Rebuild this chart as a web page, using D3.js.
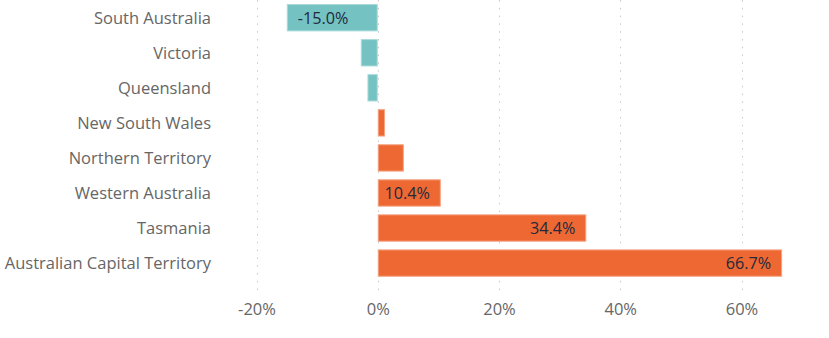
<!DOCTYPE html>
<html>
<head>
<meta charset="utf-8">
<script src="https://cdn.jsdelivr.net/npm/d3@7"></script>
<style>
  html, body { margin: 0; padding: 0; background: #ffffff; }
  svg { display: block; }
</style>
</head>
<body>
<svg id="chart" width="829" height="338"></svg>
<script>
const categories = ["South Australia", "Victoria", "Queensland", "New South Wales", "Northern Territory", "Western Australia", "Tasmania", "Australian Capital Territory"];
const values = [-15.0, -2.8, -1.7, 1.2, 4.3, 10.4, 34.4, 66.7];
const tickValues = [-20, 0, 20, 40, 60];
const tickLabels = ["-20%", "0%", "20%", "40%", "60%"];

const svg = d3.select("#chart");
const font = "'Open Sans', 'Noto Sans', sans-serif";

const x = d3.scaleLinear().domain([-20, 60]).range([256.5, 741.5]);
const y = d3.scaleBand().domain(categories).range([0.2, 280.6]).paddingInner(0.22).paddingOuter(0.11);

// gridlines
svg.append("g").selectAll("line").data(tickValues).join("line")
  .attr("x1", d => Math.round(x(d)) + 0.5).attr("x2", d => Math.round(x(d)) + 0.5)
  .attr("y1", 0).attr("y2", 292)
  .attr("stroke", "#c8c8c8").attr("stroke-width", 1)
  .attr("stroke-dasharray", "1.5,6.3");

// x axis labels
const xAxis = d3.axisBottom(x).tickValues(tickValues).tickFormat((d, i) => tickLabels[i]).tickSize(0).tickPadding(0);
const gx = svg.append("g").attr("transform", "translate(0,303.5)").call(xAxis);
gx.select(".domain").remove();
gx.selectAll("text").attr("font-family", font).attr("font-size", 16.5).attr("fill", "#666666").attr("dy", "0.71em");

// y axis labels
const yAxis = d3.axisLeft(y).tickSize(0).tickPadding(0);
const gy = svg.append("g").attr("transform", "translate(211,0)").call(yAxis);
gy.select(".domain").remove();
gy.selectAll("text").attr("font-family", font).attr("font-size", 16.5).attr("fill", "#666666").attr("dy", "0.35em");

// bars
svg.append("g").selectAll("rect").data(values).join("rect")
  .attr("x", d => x(Math.min(0, d)) + 0.5)
  .attr("y", (d, i) => y(categories[i]) + 0.5)
  .attr("width", d => Math.abs(x(d) - x(0)) - 1)
  .attr("height", y.bandwidth() - 1)
  .attr("fill", d => d < 0 ? "#74C2C2" : "#EE6833")
  .attr("stroke", d => d < 0 ? "#A9DADA" : "#F5A383")
  .attr("stroke-width", 1);

// value labels (inside end, only when they fit)
svg.append("g").selectAll("text").data(values).join("text")
  .attr("x", d => d < 0 ? x(d) + 11 : x(d) - 11)
  .attr("y", (d, i) => y(categories[i]) + y.bandwidth() / 2)
  .attr("dy", "0.36em")
  .attr("text-anchor", d => d < 0 ? "start" : "end")
  .attr("font-family", font).attr("font-size", 16.2)
  .attr("fill", "#222a3c")
  .text(d => d.toFixed(1) + "%")
  .attr("display", d => Math.abs(x(d) - x(0)) > 60 ? null : "none");
</script>
</body>
</html>
